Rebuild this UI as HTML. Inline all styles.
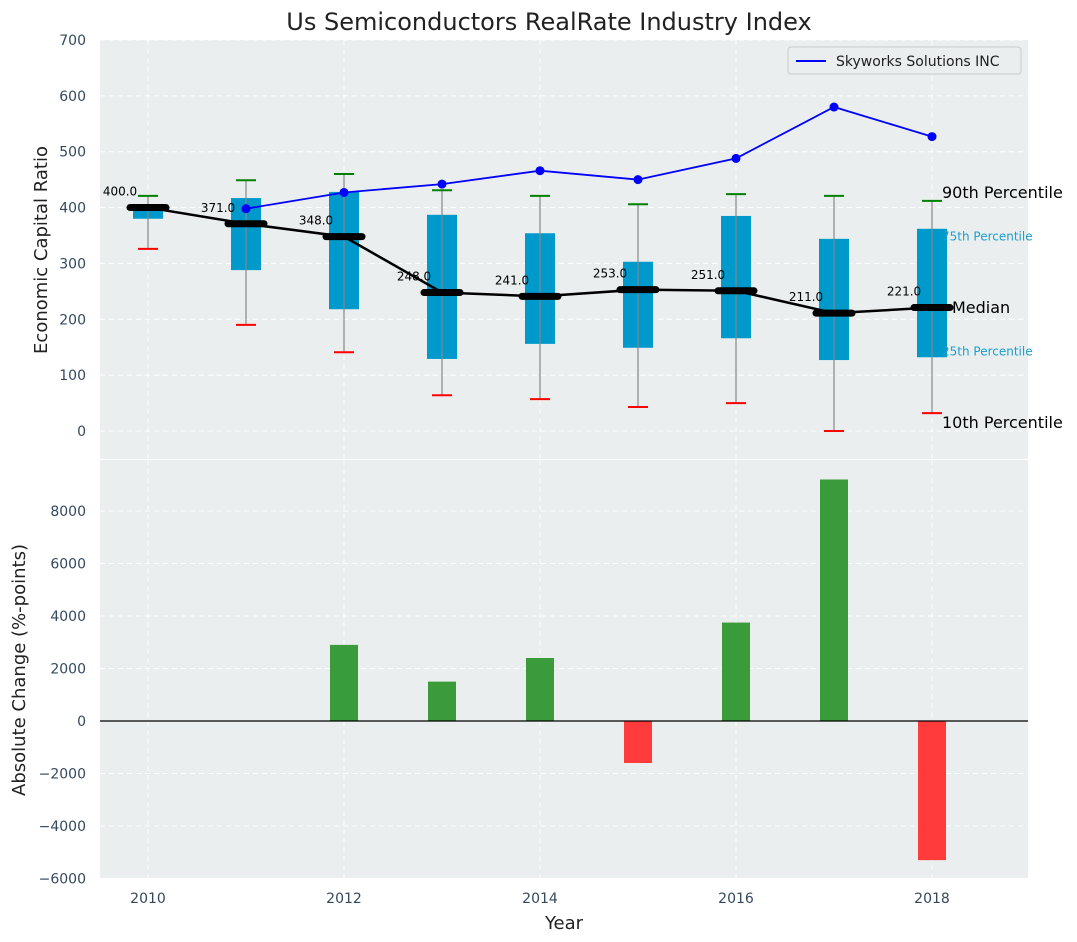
<!DOCTYPE html>
<html><head><meta charset="utf-8"><style>
body{margin:0;background:#fff;}
svg{display:block;font-family:"DejaVu Sans","Liberation Sans",sans-serif;}
</style></head><body>
<svg id="chart" width="1077" height="942" viewBox="0 0 1077 942" xmlns="http://www.w3.org/2000/svg">
<text x="549" y="30" text-anchor="middle" font-size="24" fill="#222">Us Semiconductors RealRate Industry Index</text>
<rect x="100" y="40" width="928" height="419" fill="#eaeeee"/>
<rect x="100" y="460" width="928" height="418" fill="#eaeeee"/>
<g id="grid"></g>
<g id="bars"></g>
<g id="boxes"></g>
<g id="labels"></g>
<text transform="translate(47,250) rotate(-90)" text-anchor="middle" font-size="18" fill="#222">Economic Capital Ratio</text>
<text transform="translate(25,670) rotate(-90)" text-anchor="middle" font-size="18" fill="#222">Absolute Change (%-points)</text>
<text x="564" y="929" text-anchor="middle" font-size="18" fill="#222">Year</text>
<g>
<rect x="788" y="47" width="233" height="27" rx="3" fill="#eaeeee" stroke="#ccc"/>
<line x1="796" y1="61" x2="826" y2="61" stroke="#0000ff" stroke-width="2"/>
<text x="836" y="66" font-size="14" fill="#222">Skyworks Solutions INC</text>
</g>
</svg>
<script>
const years=[2010,2011,2012,2013,2014,2015,2016,2017,2018];
const medians=[400,371,348,248,241,253,251,211,221];
const q1=[380,288,218,129,156,149,166,127,132];
const q3=[401,417,428,387,354,303,385,344,362];
const p10=[326,190,141,64,57,43,50,0,32];
const p90=[421,449,460,431,421,406,424,421,412];
const skyYears=[2011,2012,2013,2014,2015,2016,2017,2018];
const skyVals=[398,427,442,466,450,488,580,527];
const changeYears=[2012,2013,2014,2015,2016,2017,2018];
const changeVals=[2900,1500,2400,-1600,3750,9200,-5300];
const topTicks=[0,100,200,300,400,500,600,700];
const botTicks=[-6000,-4000,-2000,0,2000,4000,6000,8000];
const xTicks=[2010,2012,2014,2016,2018];

const NS='http://www.w3.org/2000/svg';
const X=y=>148+(y-2010)*98;
const YT=v=>431-v*0.5586;
const YB=v=>721-v*0.02625;
function mk(parent,tag,attrs,text){const e=document.createElementNS(NS,tag);for(const k in attrs)e.setAttribute(k,attrs[k]);if(text!==undefined)e.textContent=text;document.getElementById(parent).appendChild(e);return e;}

topTicks.forEach(t=>{
 let l=mk('grid','line',{x1:100,x2:1028,y1:YT(t),y2:YT(t),stroke:'#fff','stroke-dasharray':'5,4','stroke-width':1});
 
 
 let tx=mk('grid','text',{x:86,y:YT(t)+5,'text-anchor':'end','font-size':14,fill:'#34495e'},t);
 
 
});
botTicks.forEach(t=>{
 let l=mk('grid','line',{x1:100,x2:1028,y1:YB(t),y2:YB(t),stroke:'#fff','stroke-dasharray':'5,4','stroke-width':1});
 
 
 let tx=mk('grid','text',{x:86,y:YB(t)+5,'text-anchor':'end','font-size':14,fill:'#34495e'},(t<0?'\u2212'+(-t):t));
 
 
});
xTicks.forEach(t=>{
 [[40,459],[460,878]].forEach(r=>{
  let l=mk('grid','line',{x1:X(t),x2:X(t),y1:r[0],y2:r[1],stroke:'#fff','stroke-dasharray':'5,4'});
  
  
 });
 let tx=mk('grid','text',{x:X(t),y:903,'text-anchor':'middle','font-size':14,fill:'#34495e'},t);
 
 
});

changeYears.forEach((y,i)=>{
 const v=changeVals[i];
 let r=mk('bars','rect',{x:X(y)-14,width:28,y:Math.min(YB(v),YB(0)),height:Math.abs(YB(v)-YB(0)),fill:v>=0?'#3a9b3a':'#ff3b3b'});
 
 
});
let zl=mk('bars','line',{x1:100,x2:1028,y1:YB(0),y2:YB(0),stroke:'#000','stroke-width':1.2});



years.forEach((y,i)=>{
 const x=X(y);
 let b=mk('boxes','rect',{x:x-15,width:30,y:YT(q3[i]),height:YT(q1[i])-YT(q3[i]),fill:'#0099cc'});
 
 
 let w=mk('boxes','line',{x1:x,x2:x,y1:YT(p90[i]),y2:YT(p10[i]),stroke:'#888','stroke-width':1.2});
 
 
 let c1=mk('boxes','line',{x1:x-10,x2:x+10,y1:YT(p90[i]),y2:YT(p90[i]),stroke:'#008000','stroke-width':2});
 
 
 let c2=mk('boxes','line',{x1:x-10,x2:x+10,y1:YT(p10[i]),y2:YT(p10[i]),stroke:'#ff0000','stroke-width':2});
 
 
});
let mp=mk('boxes','polyline',{points:years.map((y,i)=>X(y)+','+YT(medians[i])).join(' '),fill:'none',stroke:'#000','stroke-width':2.5});


years.forEach((y,i)=>{
 const x=X(y);
 let m=mk('boxes','line',{x1:x-18,x2:x+18,y1:YT(medians[i]),y2:YT(medians[i]),stroke:'#000','stroke-width':7,'stroke-linecap':'round'});
 
 
 let t=mk('labels','text',{x:x-28,y:YT(medians[i])-12,'text-anchor':'middle','font-size':12,fill:'#000'},medians[i].toFixed(1));
 
 
});
let sp=mk('boxes','polyline',{points:skyYears.map((y,i)=>X(y)+','+YT(skyVals[i])).join(' '),fill:'none',stroke:'#0000ff','stroke-width':1.8});


skyYears.forEach((y,i)=>{
 let c=mk('boxes','circle',{cx:X(y),cy:YT(skyVals[i]),r:4.5,fill:'#0000ff'});
 
 
});
const last=years.length-1, lx=X(years[last]);
[['90th Percentile',p90[last]+16,16,'#000',lx+10,'p90-annotation'],
 ['75th Percentile',q3[last]-10,12,'#1a9fcf',lx+10,'p75-annotation'],
 ['Median',medians[last]+1,16,'#000',lx+20,'median-annotation'],
 ['25th Percentile',q1[last]+14,12,'#1a9fcf',lx+10,'p25-annotation'],
 ['10th Percentile',p10[last]-16,16,'#000',lx+10,'p10-annotation']].forEach(a=>{
 let t=mk('labels','text',{x:a[4],y:YT(a[1])+6,'font-size':a[2],fill:a[3]},a[0]);
 
 
});
</script>
</body></html>
